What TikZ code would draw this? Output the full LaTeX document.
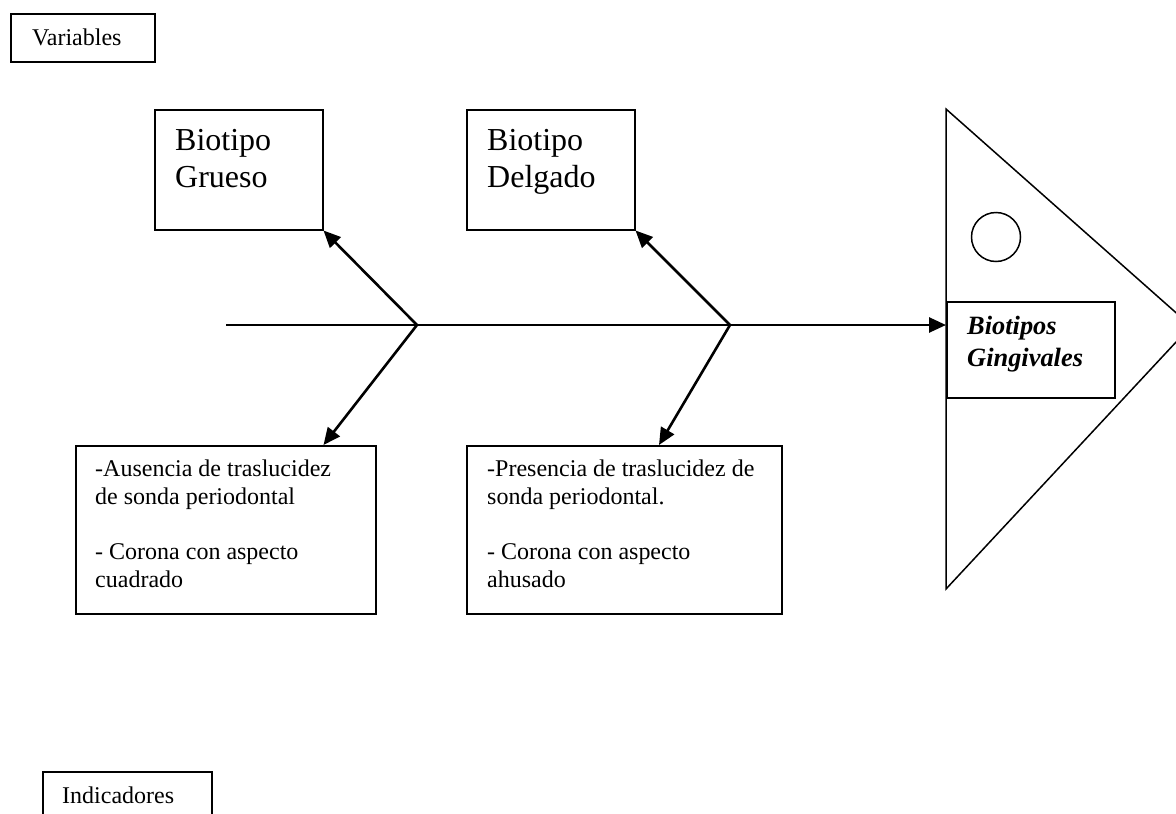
\documentclass[tikz,border=0pt]{standalone}
\usepackage{fontspec}
\setmainfont{Liberation Serif}
\usetikzlibrary{arrows.meta,positioning,calc}

\begin{document}
\begin{tikzpicture}[
    x=1pt, y=-1pt,
    box/.style={draw, line width=1.5pt, anchor=north west, inner sep=0pt},
    txt/.style={anchor=base west, inner sep=0pt, align=left, font=\fontsize{24}{27.6}\selectfont},
    big/.style={txt, font=\fontsize{32}{37}\selectfont},
    head/.style={txt, font=\fontsize{26.4}{31.5}\selectfont\bfseries\itshape},
    bone/.style={-{Triangle[length=17pt, width=15pt]}, line width=2.6pt}
]
\useasboundingbox (0,0) rectangle (1176,814);
\clip (0,0) rectangle (1176,814);
% head of the fish
\coordinate (apex) at (1191,326);
\draw[line width=1.5pt] (946,109) -- (apex) -- (946,589) -- cycle;
\node[draw, circle, line width=1.5pt, minimum size=49pt, inner sep=0pt] (ojo) at (996,237) {};
\node[box, fill=white, minimum width=168pt, minimum height=96pt] (efecto) at (946,301) {};
\node[head] (efectotxt) at (967,366) {Biotipos\\Gingivales};
% labels
\node[box, minimum width=144pt, minimum height=48pt] (variables) at (10,13) {};
\node[txt] (variablestxt) at (32,45.5) {Variables};
\node[box, minimum width=169pt, minimum height=48pt] (indicadores) at (42,771) {};
\node[txt] (indicadorestxt) at (62,803) {Indicadores};
% causes (base anchor = last line)
\node[box, minimum width=168pt, minimum height=120pt] (grueso) at (154,109) {};
\node[big] (gruesotxt) at (175,187) {Biotipo\\Grueso};
\node[box, minimum width=168pt, minimum height=120pt] (delgado) at (466,109) {};
\node[big] (delgadotxt) at (487,187) {Biotipo\\Delgado};
\node[box, minimum width=300pt, minimum height=168pt] (ausencia) at (75,445) {};
\node[txt] (ausenciatxt) at (95,587) {-Ausencia de traslucidez\\de sonda periodontal\\[27.6pt]- Corona con aspecto\\cuadrado};
\node[box, minimum width=315pt, minimum height=168pt] (presencia) at (466,445) {};
\node[txt] (presenciatxt) at (487,587) {-Presencia de traslucidez de\\sonda periodontal.\\[27.6pt]- Corona con aspecto\\ahusado};
% spine and bones
\coordinate (cola) at (226,325);
\coordinate (j1) at (417,325);
\coordinate (j2) at (730,325);
\draw[bone] (cola) -- (cola -| efecto.west);
\draw[bone] (j1) -- (grueso.south east);
\draw[bone] (j1) -- (grueso.south east |- ausencia.north);
\draw[bone] (j2) -- (delgado.south east);
\draw[bone] (j2) -- ($(presencia.north west)+(193,0)$);
\end{tikzpicture}
\end{document}
